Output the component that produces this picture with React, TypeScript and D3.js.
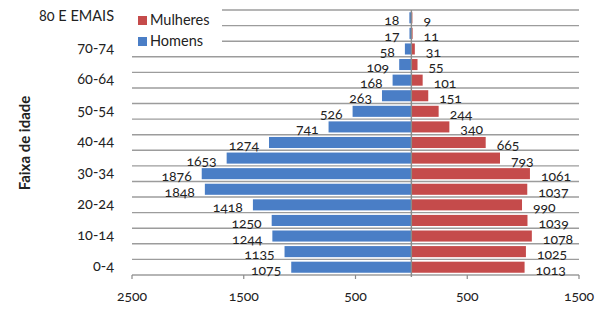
import React from "react";
import * as d3 from "d3";

const categories = ["80 E EMAIS", "75-79", "70-74", "65-69", "60-64", "55-59", "50-54", "45-49", "40-44", "35-39", "30-34", "25-29", "20-24", "15-19", "10-14", "5-9", "0-4"];
const shownLabels = ["80 E EMAIS", "70-74", "60-64", "50-54", "40-44", "30-34", "20-24", "10-14", "0-4"];
const homens = [18, 17, 58, 109, 168, 263, 526, 741, 1274, 1653, 1876, 1848, 1418, 1250, 1244, 1135, 1075];
const mulheres = [9, 11, 31, 55, 101, 151, 244, 340, 665, 793, 1061, 1037, 990, 1039, 1078, 1025, 1013];
const xTicks = [-2500, -1500, -500, 500, 1500];

const BLUE = "#4a7ec6";
const RED = "#c54b4b";
const FONT = "Lato, 'Open Sans', sans-serif";

export default function App() {
  const W = 603, H = 309;
  const x = d3.scaleLinear().domain([-2500, 1500]).range([132, 579]);
  const y = d3.scaleBand<string>().domain(categories).range([10, 275]).paddingInner(0.29).paddingOuter(0.145);
  const step = y.step();
  const x0 = x(0);
  const numStyle: React.CSSProperties = { fontVariantNumeric: "oldstyle-nums" };

  return (
    <svg width={W} height={H} style={{ position: "absolute", left: 0, top: 0, background: "#fff" }} fontFamily={FONT}>
      {d3.range(categories.length + 1).map((i) => (
        <line key={"g" + i} x1={x(-2500)} x2={x(1500)} y1={10 + i * step} y2={10 + i * step} stroke="#9c9c9c" strokeWidth={1.4} />
      ))}
      {categories.map((c, i) => (
        <g key={"b" + c}>
          <rect x={x(-homens[i])} y={y(c)} width={x0 - x(-homens[i])} height={y.bandwidth()} fill={BLUE} />
          <rect x={x0} y={y(c)} width={x(mulheres[i]) - x0} height={y.bandwidth()} fill={RED} />
        </g>
      ))}
      <line x1={x0} x2={x0} y1={10} y2={277} stroke="#8a8a8a" strokeWidth={1.4} />
      {xTicks.map((t) => (
        <g key={"t" + t}>
          <line x1={x(t)} x2={x(t)} y1={275} y2={279} stroke="#8a8a8a" strokeWidth={1.2} />
          <text x={x(t)} y={297} textAnchor="middle" dominantBaseline="middle" fontSize={14} fill="#222" style={numStyle}>
            {Math.abs(t)}
          </text>
        </g>
      ))}
      {categories.map((c, i) => {
        const cy = (y(c) as number) + y.bandwidth() / 2 + 4;
        return (
          <g key={"l" + c}>
            <text x={x(-homens[i]) - 10} y={cy} textAnchor="end" dominantBaseline="middle" fontSize={14} fill="#222" style={numStyle}>
              {homens[i]}
            </text>
            <text x={x(mulheres[i]) + 11} y={cy} textAnchor="start" dominantBaseline="middle" fontSize={14} fill="#222" style={numStyle}>
              {mulheres[i]}
            </text>
          </g>
        );
      })}
      {shownLabels.map((c) => (
        <text key={"y" + c} x={114} y={(y(c) as number) + y.bandwidth() / 2} textAnchor="end" dominantBaseline="middle" fontSize={14.5} fill="#222" style={numStyle}>
          {c}
        </text>
      ))}
      <text transform="translate(26,143) rotate(-90)" textAnchor="middle" dominantBaseline="middle" fontSize={15} fontWeight="bold" fill="#222">
        Faixa de idade
      </text>
      <rect x={132} y={4} width={90} height={46} fill="#fff" />
      <rect x={138} y={16} width={9} height={9} fill={RED} />
      <text x={150} y={21} dominantBaseline="middle" fontSize={14.5} fill="#222">Mulheres</text>
      <rect x={138} y={37} width={9} height={9} fill={BLUE} />
      <text x={150} y={42} dominantBaseline="middle" fontSize={14.5} fill="#222">Homens</text>
    </svg>
  );
}
